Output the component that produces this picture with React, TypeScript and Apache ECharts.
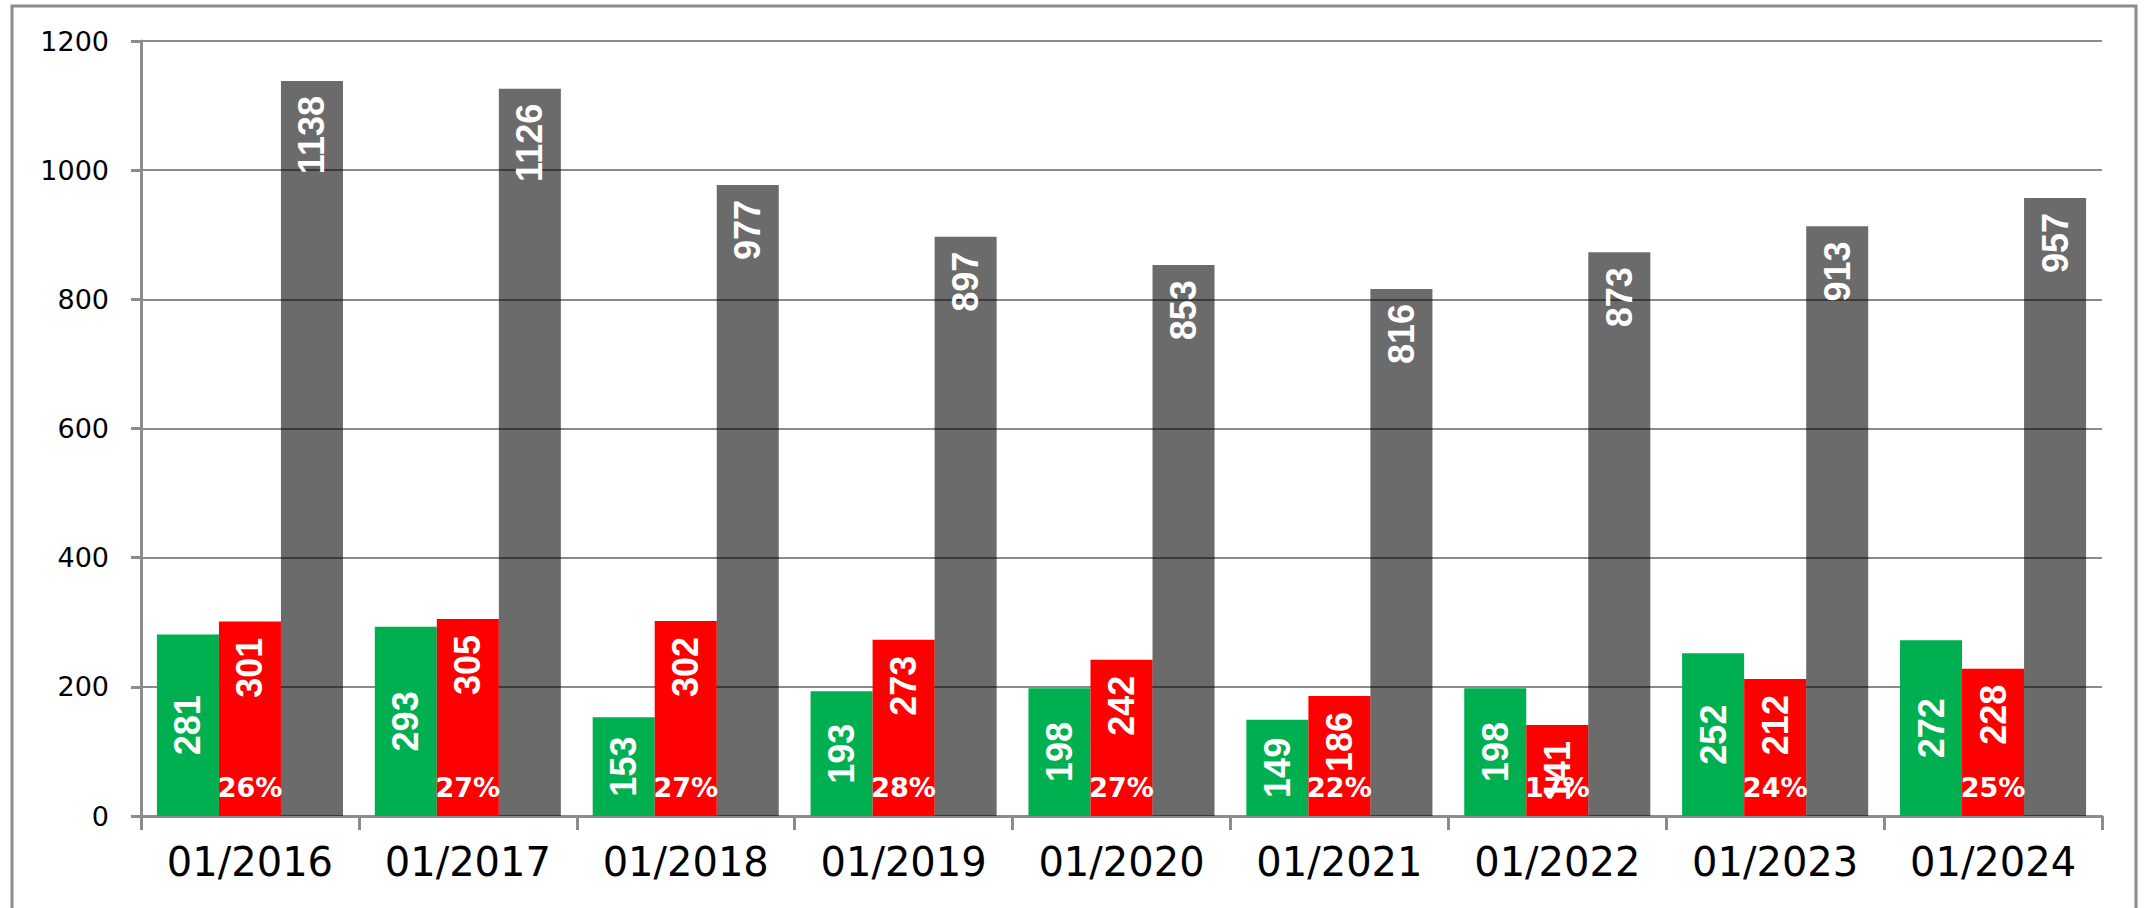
import React, { useEffect, useRef } from "react";
import * as echarts from "echarts";

const categories = ["01/2016", "01/2017", "01/2018", "01/2019", "01/2020", "01/2021", "01/2022", "01/2023", "01/2024"];
const greenValues = [281, 293, 153, 193, 198, 149, 198, 252, 272];
const redValues = [301, 305, 302, 273, 242, 186, 141, 212, 228];
const grayValues = [1138, 1126, 977, 897, 853, 816, 873, 913, 957];
const percentLabels = ["26%", "27%", "27%", "28%", "27%", "22%", "17%", "24%", "25%"];
const yTicks = { min: 0, max: 1200, interval: 200 };

export default function App() {
  const ref = useRef<HTMLDivElement>(null);
  useEffect(() => {
    document.body.style.margin = "0";
    const chart = echarts.init(ref.current!, null, { renderer: "svg" });
    const barLabelFont = {
      fontFamily: "Liberation Sans",
      fontWeight: "bold" as const,
      fontSize: 36,
      color: "#ffffff",
    };
    chart.setOption({
      animation: false,
      backgroundColor: "#ffffff",
      graphic: [
        {
          type: "rect",
          shape: { x: 12, y: 6, width: 2124, height: 930 },
          style: { fill: "none", stroke: "#8c8c8c", lineWidth: 3 },
          z: 10,
        },
      ],
      grid: { left: 141, right: 43, top: 41, bottom: 92, containLabel: false },
      xAxis: {
        type: "category",
        data: categories,
        axisLine: { show: true, lineStyle: { color: "#8c8c8c", width: 3 } },
        axisTick: { show: true, interval: 0, length: 14, lineStyle: { color: "#8c8c8c", width: 3 } },
        axisLabel: {
          interval: 0,
          hideOverlap: false,
          color: "#000000",
          fontFamily: "DejaVu Sans",
          fontSize: 40,
          margin: 26,
        },
      },
      yAxis: {
        type: "value",
        min: yTicks.min,
        max: yTicks.max,
        interval: yTicks.interval,
        axisLine: { show: true, lineStyle: { color: "#8c8c8c", width: 3 } },
        axisTick: { show: true, length: 10, lineStyle: { color: "#8c8c8c", width: 3 } },
        splitLine: { show: true, lineStyle: { color: "#8a8a8a", width: 2 } },
        axisLabel: {
          color: "#000000",
          fontFamily: "DejaVu Sans",
          fontSize: 27,
          margin: 32,
          formatter: (v: number) => String(v),
        },
      },
      series: [
        {
          type: "bar",
          name: "green",
          data: greenValues,
          barGap: "0%",
          barCategoryGap: "14.6%",
          itemStyle: { color: "#00B050" },
          label: {
            show: true,
            position: "inside",
            rotate: 90,
            align: "center",
            verticalAlign: "middle",
            ...barLabelFont,
          },
        },
        {
          type: "bar",
          name: "red",
          data: redValues,
          barGap: "0%",
          barCategoryGap: "14.6%",
          itemStyle: { color: "#FF0000" },
          label: {
            show: true,
            position: "insideTop",
            distance: 16,
            rotate: 90,
            align: "right",
            verticalAlign: "middle",
            ...barLabelFont,
          },
        },
        {
          type: "bar",
          name: "gray",
          data: grayValues,
          barGap: "0%",
          barCategoryGap: "14.6%",
          itemStyle: { color: "rgba(0,0,0,0.58)" },
          label: {
            show: true,
            position: "insideTop",
            distance: 15,
            rotate: 90,
            align: "right",
            verticalAlign: "middle",
            ...barLabelFont,
          },
        },
        {
          type: "scatter",
          name: "pct",
          data: categories.map((c, i) => [c, 0]),
          symbolSize: 0,
          z: 5,
          itemStyle: { opacity: 1 },
          label: {
            show: true,
            position: "inside",
            offset: [0, -29],
            formatter: (p: any) => percentLabels[p.dataIndex],
            fontFamily: "DejaVu Sans",
            fontWeight: "bold",
            fontSize: 27,
            color: "#ffffff",
            opacity: 1,
          },
        },
      ],
    });
    return () => chart.dispose();
  }, []);
  return (
    <div
      ref={ref}
      style={{ position: "absolute", left: 0, top: 0, width: 2145, height: 908 }}
    />
  );
}
